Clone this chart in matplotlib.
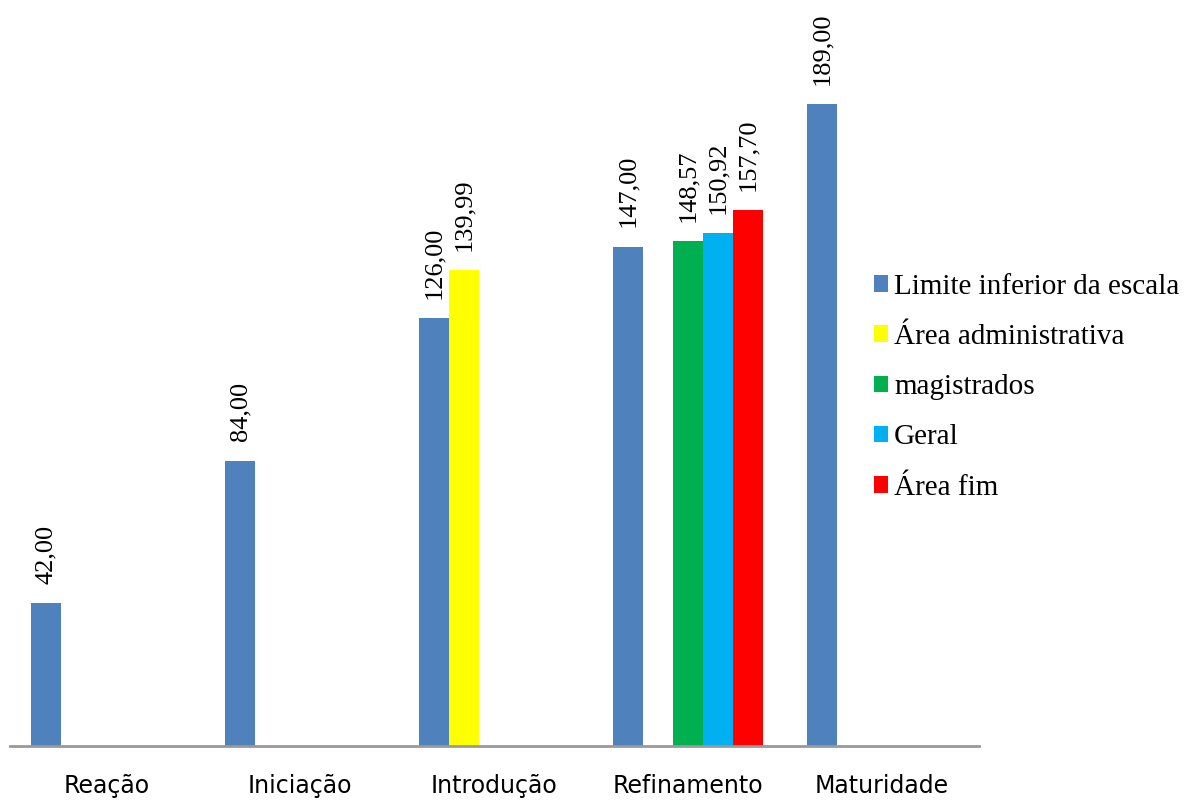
import matplotlib.pyplot as plt
import numpy as np

# dados
categorias = ["Reação", "Iniciação", "Introdução", "Refinamento", "Maturidade"]
series = ["Limite inferior da escala", "Área administrativa", "magistrados", "Geral", "Área fim"]
limite = [42.00, 84.00, 126.00, 147.00, 189.00]
area_adm = [None, None, 139.99, None, None]
magistrados = [None, None, None, 148.57, None]
geral = [None, None, None, 150.92, None]
area_fim = [None, None, None, 157.70, None]
cores = ["#4F81BD", "#FFFF00", "#00B050", "#00B0F0", "#FF0000"]

valores = [limite, area_adm, magistrados, geral, area_fim]

fig = plt.figure(figsize=(11.92, 8), dpi=100)
ax = fig.add_axes([0.008, 0.0675, 0.813, 0.9325])

x = np.arange(len(categorias))
w = 0.155
for i, (nome, vals, cor) in enumerate(zip(series, valores, cores)):
    pos = x - 2 * w + i * w
    xs = [p for p, v in zip(pos, vals) if v is not None]
    ys = [v for v in vals if v is not None]
    bars = ax.bar(xs, ys, width=w, color=cor, label=nome, edgecolor="none")
    for b, v in zip(bars, ys):
        ax.annotate(f"{v:.2f}".replace(".", ","), (b.get_x() + b.get_width() / 2, v),
                    xytext=(0, 14), textcoords="offset points", rotation=90,
                    ha="center", va="bottom", fontsize=19, family="Liberation Serif")

ax.set_xlim(-0.5, 4.5)
ax.set_ylim(0, 219.6)
ax.set_xticks(x)
ax.set_xticklabels(categorias, fontsize=17, family="DejaVu Sans")
ax.tick_params(axis="x", length=0, pad=20)
ax.set_yticks([])
for s in ["top", "right", "left"]:
    ax.spines[s].set_visible(False)
ax.spines["bottom"].set_color("#999999")
ax.spines["bottom"].set_linewidth(2)

leg = fig.legend(loc="center left", bbox_to_anchor=(0.711, 0.516), frameon=False,
                 prop={"family": "Liberation Serif", "size": 21},
                 handlelength=0.5, handleheight=0.5, handletextpad=0.2, labelspacing=0.83)

fig.savefig("out.png", dpi=100)
